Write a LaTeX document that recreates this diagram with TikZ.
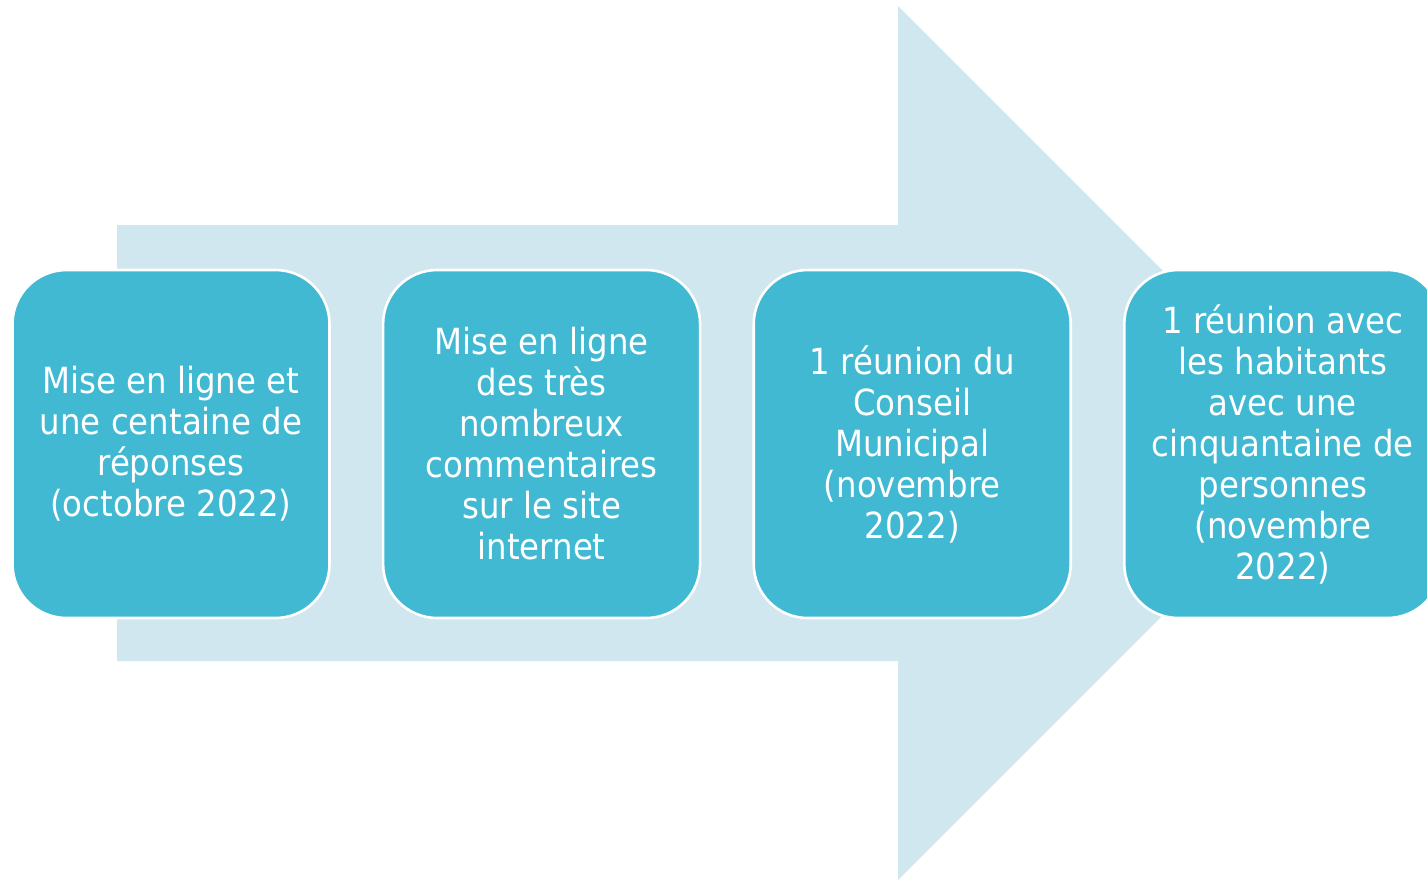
\documentclass[tikz,border=0pt]{standalone}
\usepackage{fontspec}
\setmainfont{DejaVu Sans}[FakeStretch=0.9]
\usetikzlibrary{positioning}
\definecolor{flechebleu}{RGB}{208,231,239}
\definecolor{etapebleu}{RGB}{66,185,211}
\tikzset{
  etape/.style={draw=white, line width=1.3pt, fill=etapebleu, rounded corners=27pt,
    minimum width=158.5pt, minimum height=174pt, inner sep=0pt,
    text=white, align=center, font=\fontsize{18}{20.5}\selectfont},
}

\begin{document}
\begin{tikzpicture}[x=0.5pt,y=-0.5pt]
            \useasboundingbox (0,0) rectangle (1427,879);
            % big arrow behind the steps
            \fill[flechebleu] (117,225) -- (898,225) -- (898,6) -- (1335,443)
                -- (898,880) -- (898,661) -- (117,661) -- cycle;
            \node[etape] (e1) at (171,444) {Mise en ligne et\\une centaine de\\réponses\\(octobre 2022)};
            \node[etape, right=25.5pt of e1] (e2) {Mise en ligne\\des très\\nombreux\\commentaires\\sur le site\\internet};
            \node[etape, right=25.5pt of e2] (e3) {1 réunion du\\Conseil\\Municipal\\(novembre\\2022)};
            \node[etape, right=25.5pt of e3] (e4) {1 réunion avec\\les habitants\\avec une\\cinquantaine de\\personnes\\(novembre\\2022)};
\end{tikzpicture}
\end{document}
